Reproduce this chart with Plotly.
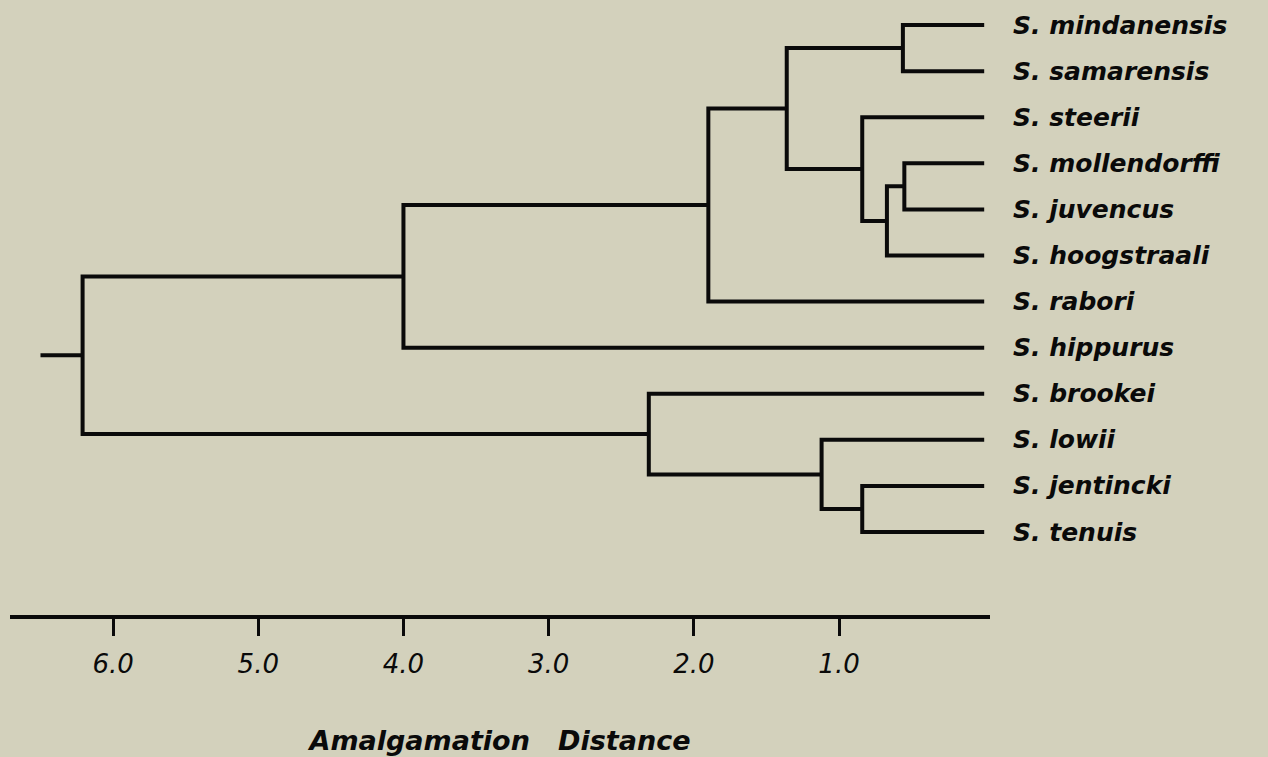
import plotly.graph_objects as go

# Leaves (top to bottom)
species = ["S. mindanensis", "S. samarensis", "S. steerii", "S. mollendorffi",
           "S. juvencus", "S. hoogstraali", "S. rabori", "S. hippurus",
           "S. brookei", "S. lowii", "S. jentincki", "S. tenuis"]

# Merges: (left child, right child, amalgamation distance)
# children: leaf index (int) or merge id "m<k>"
merge_left = [0, 3, "m1", 2, "m0", "m4", "m5", 10, 9, 8, "m6"]
merge_right = [1, 4, 5, "m2", "m3", 6, 7, 11, "m7", "m8", "m9"]
merge_dist = [0.56, 0.55, 0.67, 0.84, 1.36, 1.90, 4.00, 0.84, 1.12, 2.31, 6.21]
root_stub = 6.50

tick_vals = [6, 5, 4, 3, 2, 1]
tick_text = ["6.0", "5.0", "4.0", "3.0", "2.0", "1.0"]

# Build dendrogram segments
pos = {}
for i in range(len(species)):
    pos[i] = (0.0, float(i))

xs, ys = [], []
for k, (a, b, d) in enumerate(zip(merge_left, merge_right, merge_dist)):
    ax, ay = pos[a]
    bx, by = pos[b]
    xs += [ax, d, d, bx, None]
    ys += [ay, ay, by, by, None]
    pos["m%d" % k] = (d, (ay + by) / 2)

rx, ry = pos["m%d" % (len(merge_dist) - 1)]
xs += [rx, root_stub, None]
ys += [ry, ry, None]

ink = "#0a0a0a"
bg = "#d3d1bc"
fig = go.Figure()
fig.add_trace(go.Scatter(x=xs, y=ys, mode="lines",
                         line=dict(color=ink, width=4),
                         hoverinfo="skip", showlegend=False))

for i, name in enumerate(species):
    fig.add_annotation(x=0, y=i, xref="x", yref="y", text=name,
                       showarrow=False, xanchor="left", yanchor="middle",
                       xshift=27,
                       font=dict(family="DejaVu Sans", size=25, color=ink,
                                 style="italic", weight="bold"))

fig.update_layout(
    width=1268, height=757,
    margin=dict(l=10, r=278, t=2, b=142),
    paper_bgcolor=bg, plot_bgcolor=bg,
    showlegend=False,
    xaxis=dict(range=[6.71, -0.04], showgrid=False, zeroline=False,
               showline=True, linecolor=ink, linewidth=4,
               ticks="outside", ticklen=17, tickwidth=2.5, tickcolor=ink,
               tickvals=tick_vals, ticktext=tick_text, ticklabelstandoff=6,
               tickfont=dict(family="DejaVu Sans", size=26, color=ink,
                             style="italic"),
               title=dict(text="Amalgamation   Distance", standoff=54,
                          font=dict(family="DejaVu Sans", size=27,
                                    color=ink, style="italic",
                                    weight="bold"))),
    yaxis=dict(range=[12.8, -0.5], visible=False, showgrid=False,
               zeroline=False),
)

fig.write_html("out.html", config={"displayModeBar": False},
               post_script="document.body.style.margin='0px';")
